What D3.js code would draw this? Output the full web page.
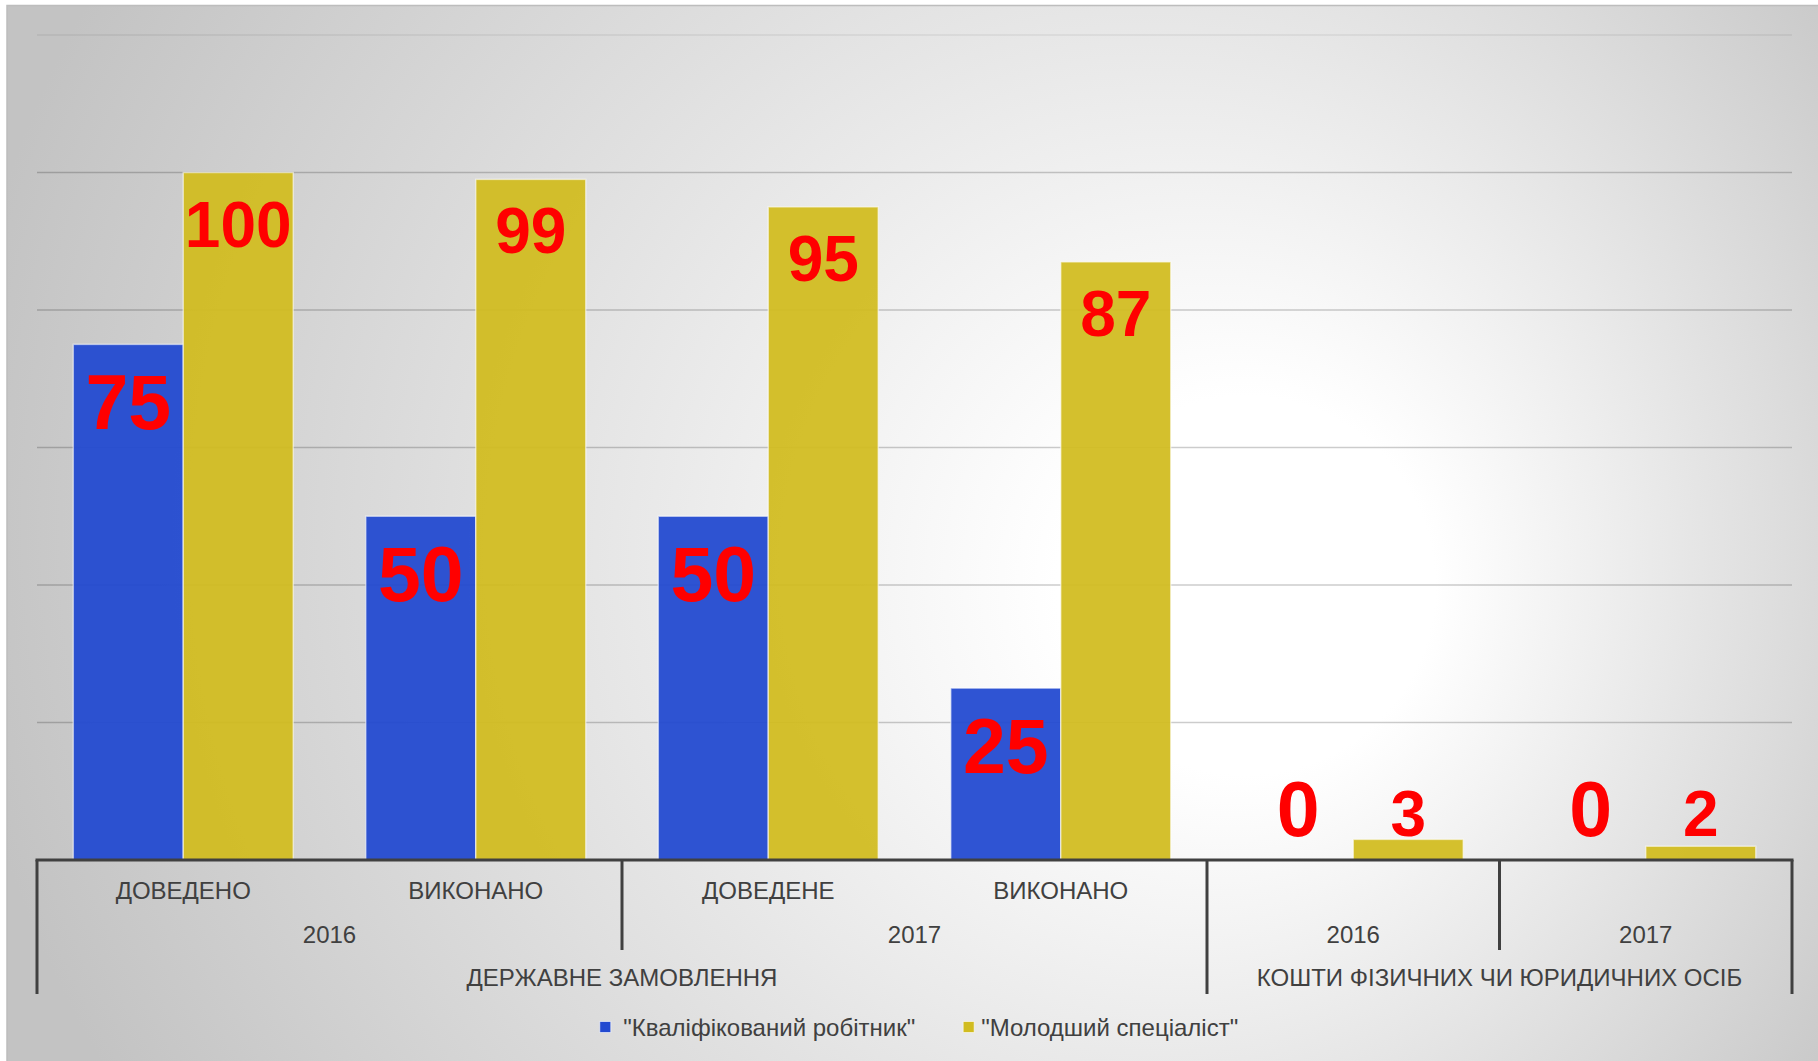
<!DOCTYPE html>
<html>
<head>
<meta charset="utf-8">
<script src="https://cdn.jsdelivr.net/npm/d3@7"></script>
<style>
  body { margin: 0; background: #fff; }
  text { font-family: "Liberation Sans", Arial, sans-serif; }
</style>
</head>
<body>
<div id="chart"></div>
<script>
// data
var categories = ["ДОВЕДЕНО", "ВИКОНАНО", "ДОВЕДЕНЕ", "ВИКОНАНО", "", ""];
var years = ["2016", "2016", "2017", "2017", "2016", "2017"];
var sources = [
  "ДЕРЖАВНЕ ЗАМОВЛЕННЯ",
  "ДЕРЖАВНЕ ЗАМОВЛЕННЯ",
  "ДЕРЖАВНЕ ЗАМОВЛЕННЯ",
  "ДЕРЖАВНЕ ЗАМОВЛЕННЯ",
  "КОШТИ ФІЗИЧНИХ ЧИ ЮРИДИЧНИХ ОСІБ",
  "КОШТИ ФІЗИЧНИХ ЧИ ЮРИДИЧНИХ ОСІБ"
];
var seriesNames = ['"Кваліфікований робітник"', '"Молодший спеціаліст"'];
var workers = [75, 50, 50, 25, 0, 0];
var juniors = [100, 99, 95, 87, 3, 2];
var yTicks = [0, 20, 40, 60, 80, 100, 120];

var colors = ["#2249D0", "#D1BC20"];
var labelSizes = [77, 64];
var labelOffsets = [85, 74];

// dimensions (note: "top" is a reserved window prop, so use plot* names)
var W = 1818, H = 1061;
var plotLeft = 37, plotRight = 1792, plotTop = 35, plotBase = 860;
var rowH = 44;

var svg = d3
  .select("#chart")
  .append("svg")
  .attr("width", W)
  .attr("height", H);

// background gradient, light spot right of centre
var defs = svg.append("defs");
var grad = defs
  .append("radialGradient")
  .attr("id", "bg")
  .attr("gradientUnits", "userSpaceOnUse")
  .attr("cx", 1000)
  .attr("cy", 520)
  .attr("r", 1050)
  .attr("fx", 1300)
  .attr("fy", 600);
grad.append("stop").attr("offset", 0).attr("stop-color", "#ffffff");
grad.append("stop").attr("offset", 0.18).attr("stop-color", "#ffffff");
grad.append("stop").attr("offset", 1).attr("stop-color", "#c3c3c3");

svg
  .append("rect")
  .attr("x", 7)
  .attr("y", 5.5)
  .attr("width", W)
  .attr("height", H)
  .style("fill", "url(#bg)")
  .style("stroke", "#bdbdbd")
  .style("stroke-width", 1.5);

// scales
var x0 = d3.scaleBand().domain(d3.range(categories.length)).range([plotLeft, plotRight]);
var x1 = d3
  .scaleBand()
  .domain([0, 1])
  .range([x0.bandwidth() * 0.124, x0.bandwidth() * 0.876]);
var y = d3.scaleLinear().domain([0, 120]).range([plotBase, plotTop]);

// gridlines
svg
  .append("g")
  .selectAll("line")
  .data(yTicks.filter(function (d) { return d > 0; }))
  .enter()
  .append("line")
  .attr("x1", plotLeft)
  .attr("x2", plotRight)
  .attr("y1", function (d) { return y(d); })
  .attr("y2", function (d) { return y(d); })
  .style("stroke", "#000")
  .style("stroke-opacity", function (d) { return d === 120 ? 0.07 : 0.2; })
  .style("stroke-width", 1.5);

// bars
var rows = categories.map(function (c, i) {
  return { i: i, values: [workers[i], juniors[i]] };
});

var groups = svg
  .append("g")
  .selectAll("g")
  .data(rows)
  .enter()
  .append("g")
  .attr("transform", function (d) { return "translate(" + x0(d.i) + ",0)"; });

groups
  .selectAll("rect")
  .data(function (d) { return d.values.map(function (v, s) { return { s: s, v: v }; }); })
  .enter()
  .filter(function (d) { return d.v > 0; })
  .append("rect")
  .attr("x", function (d) { return x1(d.s); })
  .attr("y", function (d) { return y(d.v); })
  .attr("width", x1.bandwidth())
  .attr("height", function (d) { return plotBase - y(d.v); })
  .style("fill", function (d) { return colors[d.s]; })
  .style("fill-opacity", 0.94)
  .style("stroke", "rgba(255,255,255,0.55)")
  .style("stroke-width", 1.5);

// data labels
groups
  .selectAll("text")
  .data(function (d) { return d.values.map(function (v, s) { return { s: s, v: v }; }); })
  .enter()
  .append("text")
  .attr("x", function (d) { return x1(d.s) + x1.bandwidth() / 2; })
  .attr("y", function (d) {
    // small bars: label sits just above the axis
    if (plotBase - y(d.v) < 100) return plotBase - 24;
    return y(d.v) + labelOffsets[d.s];
  })
  .attr("text-anchor", "middle")
  .style("font-size", function (d) { return labelSizes[d.s] + "px"; })
  .style("font-weight", "bold")
  .style("fill", "#ff0000")
  .text(function (d) { return d.v; });

// axis line
var axis = svg.append("g").style("stroke", "#404040").style("stroke-width", 3);
axis
  .append("line")
  .attr("x1", plotLeft - 1.5)
  .attr("x2", plotRight + 1.5)
  .attr("y1", plotBase)
  .attr("y2", plotBase);

// vertical separators of the multi level axis
var edges = d3.range(categories.length + 1);
axis
  .selectAll(".sep")
  .data(edges)
  .enter()
  .append("line")
  .attr("class", "sep")
  .attr("x1", function (i) { return i < categories.length ? x0(i) : plotRight; })
  .attr("x2", function (i) { return i < categories.length ? x0(i) : plotRight; })
  .attr("y1", plotBase)
  .attr("y2", function (i) {
    if (i === 0 || i === categories.length || sources[i] !== sources[i - 1]) return plotBase + rowH * 3 + 2;
    if (years[i] !== years[i - 1]) return plotBase + rowH * 2 + 2;
    return plotBase;
  });

// group consecutive labels into spans
function spans(keys) {
  var out = [];
  keys.forEach(function (k, i) {
    var last = out[out.length - 1];
    if (last && last.key === k && last.parent === sources[i]) {
      last.end = i;
    } else {
      out.push({ key: k, start: i, end: i, parent: sources[i] });
    }
  });
  return out;
}

var axisText = svg
  .append("g")
  .style("font-size", "24px")
  .style("fill", "#404040")
  .attr("text-anchor", "middle");

axisText
  .selectAll(".l1")
  .data(categories)
  .enter()
  .append("text")
  .attr("x", function (d, i) { return x0(i) + x0.bandwidth() / 2; })
  .attr("y", plotBase + 39)
  .text(function (d) { return d; });

axisText
  .selectAll(".l2")
  .data(spans(years))
  .enter()
  .append("text")
  .attr("x", function (d) { return (x0(d.start) + x0(d.end) + x0.bandwidth()) / 2; })
  .attr("y", plotBase + 83)
  .text(function (d) { return d.key; });

axisText
  .selectAll(".l3")
  .data(spans(sources))
  .enter()
  .append("text")
  .attr("x", function (d) { return (x0(d.start) + x0(d.end) + x0.bandwidth()) / 2; })
  .attr("y", plotBase + 126)
  .text(function (d) { return d.key; });

// legend
var legend = svg.append("g").style("font-size", "24px").style("fill", "#404040");
var items = legend
  .selectAll("g")
  .data(seriesNames)
  .enter()
  .append("g");
items
  .append("rect")
  .attr("width", 11)
  .attr("height", 11)
  .attr("y", 1021.5)
  .style("fill", function (d, i) { return colors[i]; })
  .style("stroke", "rgba(255,255,255,0.6)");
items
  .append("text")
  .attr("x", function (d, i) { return i === 0 ? 23.5 : 18; })
  .attr("y", 1035.5)
  .text(function (d) { return d; });

// place the legend items centred under the plot
var widths = [];
items.each(function () { widths.push(this.getBBox().width); });
var gap = 48;
var total = widths[0] + gap + widths[1];
var startX = 919 - total / 2;
items.attr("transform", function (d, i) {
  return "translate(" + (i === 0 ? startX : startX + widths[0] + gap) + ",0)";
});
</script>
</body>
</html>
